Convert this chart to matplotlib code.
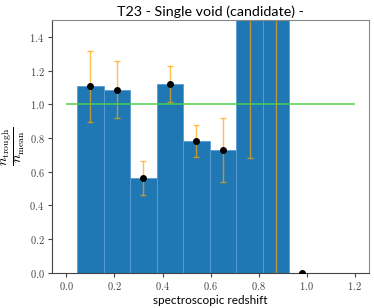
import numpy as np
import matplotlib
matplotlib.use("Agg")
import matplotlib.pyplot as plt
from matplotlib.ticker import FuncFormatter

# redshift bins (edges) and ratio n_trough / n_mean
bin_edges = [0.046, 0.156, 0.266, 0.376, 0.487, 0.597, 0.707, 0.817, 0.927, 1.037]
ratio = [1.107, 1.087, 0.561, 1.123, 0.784, 0.731, 2.5, 3.0, 0.0]
ratio_err = [0.212, 0.170, 0.101, 0.106, 0.096, 0.190, 1.82, 3.2, 0.0]
point_z = [0.100, 0.209, 0.320, 0.432, 0.541, 0.652, 0.763, 0.872, 0.982]


def main():
    plt.rcParams['mathtext.fontset'] = 'cm'

    fig = plt.figure(figsize=(3.74, 3.08), dpi=100)
    ax = fig.add_axes([0.139, 0.1146, 0.848, 0.8194])

    edges = np.array(bin_edges)
    widths = np.diff(edges)
    ax.bar(edges[:-1], ratio, width=widths, align='edge', color='#1f77b4',
           edgecolor='#5b9bd5', linewidth=0.6, zorder=1)

    ax.errorbar(point_z, ratio, yerr=ratio_err, fmt='none', ecolor='orange',
                alpha=0.7, elinewidth=1.0, capsize=2.5, capthick=1.0, zorder=2)
    ax.plot(point_z, ratio, 'o', color='black', markersize=4, zorder=3)

    ax.hlines(1.0, 0.0, 1.2, color='#4cd04c', linewidth=1.2, alpha=0.9, zorder=2)

    ax.set_xlim(-0.06, 1.26)
    ax.set_ylim(0.0, 1.5)
    ax.set_xticks(np.arange(0, 1.21, 0.2))
    ax.set_yticks(np.arange(0, 1.41, 0.2))
    fmt = FuncFormatter(lambda v, p: r'$%.1f$' % v)
    ax.xaxis.set_major_formatter(fmt)
    ax.yaxis.set_major_formatter(fmt)
    ax.tick_params(labelsize=7.5, color='#444444', labelcolor='#444444', length=3, pad=2.5)

    for side in ['top', 'right']:
        ax.spines[side].set_color('#888888')
    for side in ['left', 'bottom']:
        ax.spines[side].set_color('#444444')

    ax.set_title("T23 - Single void (candidate) -", fontsize=10.3, family='Lato', pad=3)
    ax.set_xlabel("spectroscopic redshift", fontsize=8.5, family='Lato', labelpad=2)
    ax.set_ylabel(r'$\dfrac{n_{\rm trough}}{n_{\rm mean}}$', fontsize=10)
    ax.yaxis.set_label_coords(-0.08, 0.5)

    fig.savefig("out.png", dpi=100)


if __name__ == "__main__":
    main()
